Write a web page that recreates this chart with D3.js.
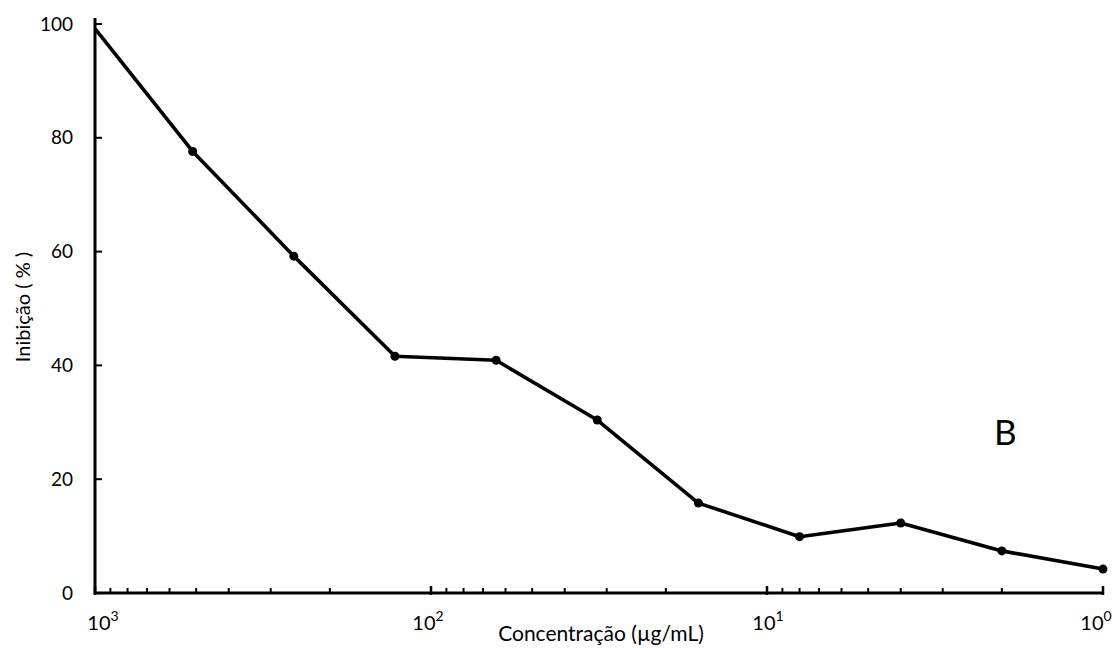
<!DOCTYPE html>
<html>
<head>
<meta charset="utf-8">
<script src="https://cdn.jsdelivr.net/npm/d3@7"></script>
<style>
    body { margin: 0; background: #fff; }
    text { font-family: Lato, 'Open Sans', sans-serif; fill: #000; }
</style>
</head>
<body>
<div id="chart"></div>
<script>
// data
const concentrations = [1000, 512, 256, 128, 64, 32, 16, 8, 4, 2, 1];
const inhibition = [99.2, 77.6, 59.2, 41.6, 40.9, 30.4, 15.8, 9.9, 12.3, 7.4, 4.2];
const yTicks = [0, 20, 40, 60, 80, 100];
const xMajorTicks = [1000, 100, 10, 1];
const xTickExponents = ['3', '2', '1', '0'];

const margin = { top: 24, right: 15, bottom: 55, left: 95 },
    width = 1118 - margin.left - margin.right,
    height = 648 - margin.top - margin.bottom;

const svg = d3.select('#chart')
    .append('svg')
        .attr('width', 1118)
        .attr('height', 648)
    .append('g')
        .attr('transform', `translate(${margin.left}, ${margin.top})`);

// reversed log scale: 10^3 on the left, 10^0 on the right
const x = d3.scaleLog()
    .domain([1000, 1])
    .range([0, 1008]);

const y = d3.scaleLinear()
    .domain([0, 100])
    .range([569, 0]);

// minor ticks between decades
const minorTicks = [];
[1, 10, 100].forEach(function(base) {
    for (let k = 2; k <= 9; k++) minorTicks.push(base * k);
});

const xAxis = svg.append('g').attr('transform', `translate(0, ${y(0)})`);

xAxis.selectAll('.minor')
    .data(minorTicks)
    .enter()
    .append('line')
        .attr('x1', d => x(d))
        .attr('x2', d => x(d))
        .attr('y1', 0)
        .attr('y2', -5)
        .attr('stroke', '#000')
        .attr('stroke-width', 2);

xAxis.selectAll('.major')
    .data(xMajorTicks)
    .enter()
    .append('line')
        .attr('x1', d => x(d))
        .attr('x2', d => x(d))
        .attr('y1', 2)
        .attr('y2', -7)
        .attr('stroke', '#000')
        .attr('stroke-width', 2.5);

xAxis.append('line')
    .attr('x1', 0)
    .attr('x2', x(1) + 1)
    .attr('stroke', '#000')
    .attr('stroke-width', 3);

// label nudges so the first and last labels sit like the original
const labelShift = [8, -3, 1, -7];

const xLabels = xAxis.selectAll('.xlabel')
    .data(xMajorTicks)
    .enter()
    .append('text')
        .attr('x', (d, i) => x(d) + labelShift[i])
        .attr('y', 37)
        .attr('text-anchor', 'middle')
        .attr('font-size', '20px');

xLabels.append('tspan').text('10');
xLabels.append('tspan')
    .text((d, i) => xTickExponents[i])
    .attr('font-size', '14px')
    .attr('dy', -9);

// y axis
const yAxis = svg.append('g');

yAxis.append('line')
    .attr('y1', -6)
    .attr('y2', y(0) + 1.5)
    .attr('stroke', '#000')
    .attr('stroke-width', 3);

yAxis.selectAll('.ytick')
    .data(yTicks)
    .enter()
    .append('line')
        .attr('x1', 0)
        .attr('x2', 7)
        .attr('y1', d => y(d))
        .attr('y2', d => y(d))
        .attr('stroke', '#000')
        .attr('stroke-width', 2);

yAxis.selectAll('.ylabel')
    .data(yTicks)
    .enter()
    .append('text')
        .text(d => d)
        .attr('x', -22)
        .attr('y', d => y(d))
        .attr('dy', '0.35em')
        .attr('text-anchor', 'end')
        .attr('font-size', '19px');

// axis titles
svg.append('text')
    .text('Concentração (µg/mL)')
    .attr('x', 506)
    .attr('y', 617)
    .attr('text-anchor', 'middle')
    .attr('font-size', '21px');

svg.append('text')
    .text('Inibição ( % )')
    .attr('transform', `translate(-65, ${307 - margin.top}) rotate(-90)`)
    .attr('text-anchor', 'middle')
    .attr('font-size', '20px');

// panel letter
svg.append('text')
    .text('B')
    .attr('x', 899)
    .attr('y', 421)
    .attr('font-size', '35px');

// line + markers
const points = concentrations.map((c, i) => ({ c: c, v: inhibition[i] }));

svg.append('path')
    .datum(points)
    .attr('fill', 'none')
    .attr('stroke', '#000')
    .attr('stroke-width', 3.6)
    .attr('stroke-linejoin', 'round')
    .attr('d', d3.line()
        .x(d => x(d.c))
        .y(d => y(d.v))
    );

svg.selectAll('.dot')
    .data(points.slice(1))
    .enter()
    .append('circle')
        .attr('cx', d => x(d.c))
        .attr('cy', d => y(d.v))
        .attr('r', 4.5)
        .attr('fill', '#000');
</script>
</body>
</html>
